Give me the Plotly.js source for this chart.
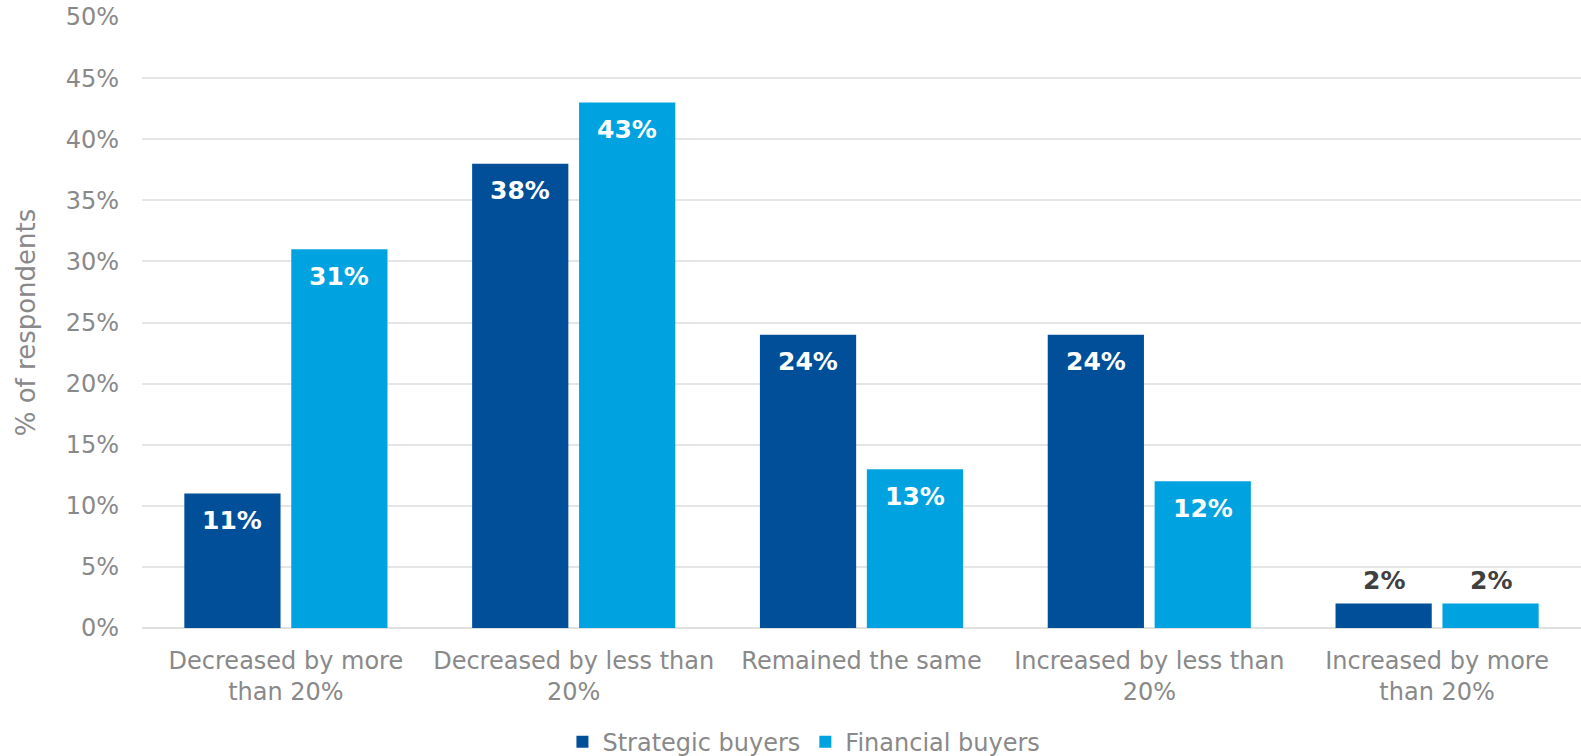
<!DOCTYPE html>
<html><head><meta charset="utf-8">
<script src="https://cdn.plot.ly/plotly-3.0.1.min.js"></script>
<style>html,body{margin:0;padding:0;background:#fff}#chart{width:1581px;height:756px}</style>
</head><body><div id="chart"></div>
<script>
const categories = ["Decreased by more<br>than 20%","Decreased by less than<br>20%","Remained the same","Increased by less than<br>20%","Increased by more<br>than 20%"];
const seriesNames = ["Strategic buyers","Financial buyers"];
const strategic = [11,38,24,24,2];
const financial = [31,43,13,12,2];
const yTickVals = [0,5,10,15,20,25,30,35,40,45,50];
const yTickText = ["0%","5%","10%","15%","20%","25%","30%","35%","40%","45%","50%"];

const colors = ["#004F98","#00A3E0"];
const FONT = "DejaVu Sans, Verdana, sans-serif";
const series = [strategic, financial];
const traces = series.map((vals,i)=>({
  type:'bar', name:seriesNames[i], x:categories, y:vals,
  marker:{color:colors[i]}, hoverinfo:'skip'
}));

const annotations = [];
const shifts = [-53.5, 53.5];
series.forEach((vals,si)=>{
  vals.forEach((v,ci)=>{
    const inside = v >= 5;
    annotations.push({
      x:categories[ci], y:v, xref:'x', yref:'y', showarrow:false,
      text:v+'%', xshift:shifts[si], yshift: inside ? -27 : 23,
      font:{family:FONT, size:25, color: inside ? '#ffffff' : '#404040', weight:'bold'}
    });
  });
});

const layout = {
  width:1581, height:756,
  margin:{l:142, r:0, t:17, b:128, autoexpand:false},
  paper_bgcolor:'#fff', plot_bgcolor:'#fff',
  font:{family:FONT, color:'#898989', size:24},
  barmode:'group', bargap:0.257, bargroupgap:0.1,
  showlegend:true,
  legend:{orientation:'h', x:0.46, xanchor:'center', y:-0.187, yanchor:'middle',
          font:{family:FONT, size:24, color:'#898989'}, itemclick:false},
  xaxis:{type:'category', tickfont:{family:FONT, size:24, color:'#898989'},
         showgrid:false, showline:false, ticks:'', automargin:false, ticklabelstandoff:16},
  yaxis:{range:[0,50], tickvals:yTickVals, ticktext:yTickText,
         tickfont:{family:FONT, size:24, color:'#898989'},
         gridcolor:'#e5e5e5', gridwidth:2, zeroline:true, zerolinecolor:'#e0e0e0', zerolinewidth:2,
         showline:false, ticks:'', ticklabelstandoff:22, automargin:false,
         title:{text:'% of respondents', standoff:22, font:{family:FONT, size:26, color:'#898989'}}},
  annotations:annotations
};
Plotly.newPlot('chart', traces, layout, {displayModeBar:false, staticPlot:true});
</script></body></html>
